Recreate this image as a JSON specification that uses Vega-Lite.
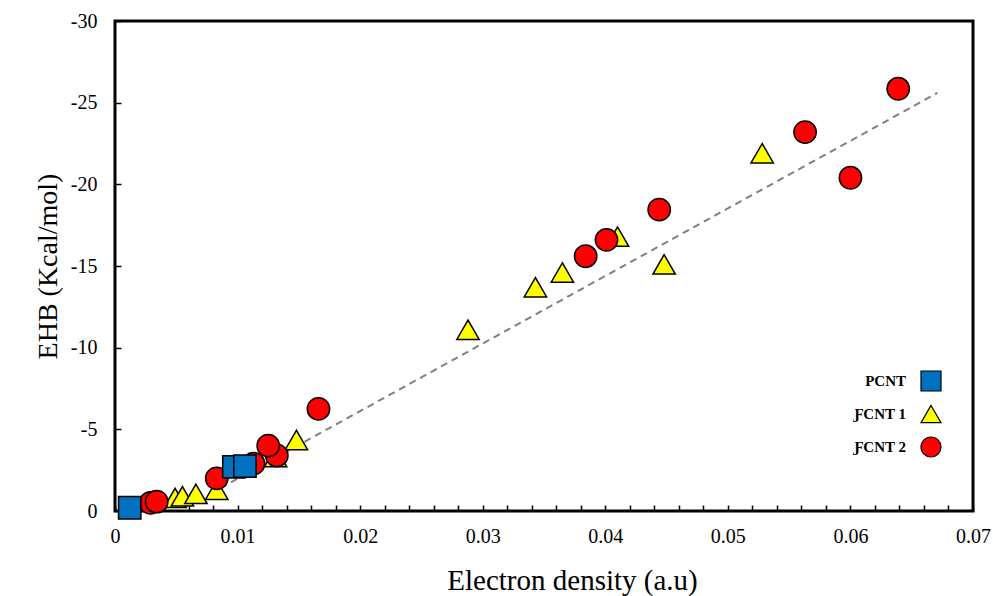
{
  "$schema": "https://vega.github.io/schema/vega-lite/v6.json",
  "autosize": {"type": "none"},
  "padding": {"left": 115, "top": 21, "right": 20, "bottom": 85},
  "width": 858,
  "height": 490,
  "background": "white",
  "config": {
    "view": {"stroke": "black", "strokeWidth": 3},
    "font": "Liberation Serif",
    "axis": {
      "grid": false,
      "domain": false,
      "tickColor": "black",
      "tickWidth": 1.5,
      "tickSize": -6,
      "labelFont": "Liberation Serif",
      "labelFontSize": 20,
      "labelColor": "black",
      "labelOverlap": false,
      "titleFont": "Liberation Serif",
      "titleFontSize": 28,
      "titleFontWeight": "normal",
      "titleColor": "black"
    }
  },
  "datasets": {
    "pts": [
      {"series": "ƑCNT 1", "z": 1, "density": 0.0049, "ehb": -0.8},
      {"series": "ƑCNT 1", "z": 1, "density": 0.0055, "ehb": -0.9},
      {"series": "ƑCNT 1", "z": 1, "density": 0.0066, "ehb": -1.05},
      {"series": "ƑCNT 1", "z": 1, "density": 0.0083, "ehb": -1.3},
      {"series": "ƑCNT 1", "z": 1, "density": 0.0131, "ehb": -3.3},
      {"series": "ƑCNT 1", "z": 1, "density": 0.0148, "ehb": -4.35},
      {"series": "ƑCNT 1", "z": 1, "density": 0.0288, "ehb": -11.1},
      {"series": "ƑCNT 1", "z": 1, "density": 0.0343, "ehb": -13.7},
      {"series": "ƑCNT 1", "z": 1, "density": 0.0365, "ehb": -14.6},
      {"series": "ƑCNT 1", "z": 1, "density": 0.041, "ehb": -16.8},
      {"series": "ƑCNT 1", "z": 1, "density": 0.0448, "ehb": -15.1},
      {"series": "ƑCNT 1", "z": 1, "density": 0.0528, "ehb": -21.9},
      {"series": "ƑCNT 2", "z": 2, "density": 0.0029, "ehb": -0.5},
      {"series": "ƑCNT 2", "z": 2, "density": 0.0034, "ehb": -0.57},
      {"series": "ƑCNT 2", "z": 2, "density": 0.0083, "ehb": -2.0},
      {"series": "ƑCNT 2", "z": 2, "density": 0.0113, "ehb": -2.9},
      {"series": "ƑCNT 2", "z": 2, "density": 0.0132, "ehb": -3.4},
      {"series": "ƑCNT 2", "z": 2, "density": 0.0125, "ehb": -4.0},
      {"series": "ƑCNT 2", "z": 2, "density": 0.0166, "ehb": -6.25},
      {"series": "ƑCNT 2", "z": 2, "density": 0.0384, "ehb": -15.6},
      {"series": "ƑCNT 2", "z": 2, "density": 0.0401, "ehb": -16.6},
      {"series": "ƑCNT 2", "z": 2, "density": 0.0444, "ehb": -18.45},
      {"series": "ƑCNT 2", "z": 2, "density": 0.0563, "ehb": -23.2},
      {"series": "ƑCNT 2", "z": 2, "density": 0.06, "ehb": -20.4},
      {"series": "ƑCNT 2", "z": 2, "density": 0.0639, "ehb": -25.85},
      {"series": "PCNT", "z": 3, "density": 0.0012, "ehb": -0.2},
      {"series": "PCNT", "z": 3, "density": 0.0097, "ehb": -2.7},
      {"series": "PCNT", "z": 3, "density": 0.0106, "ehb": -2.75}
    ],
    "trend": [
      {"density": 0.0086, "ehb": -1.4},
      {"density": 0.0671, "ehb": -25.6}
    ]
  },
  "encoding": {
    "x": {
      "field": "density",
      "type": "quantitative",
      "scale": {"domain": [0, 0.07], "nice": false, "zero": false},
      "axis": {
        "title": "Electron density (a.u)",
        "titleX": 457,
        "titleFontSize": 29,
        "values": [0, 0.002, 0.004, 0.006, 0.008, 0.01, 0.012, 0.014, 0.016, 0.018, 0.02, 0.022, 0.024, 0.026, 0.028, 0.03, 0.032, 0.034, 0.036, 0.038, 0.04, 0.042, 0.044, 0.046, 0.048, 0.05, 0.052, 0.054, 0.056, 0.058, 0.06, 0.062, 0.064, 0.066, 0.068, 0.07],
        "labelExpr": "round(datum.value*500) % 5 == 0 ? format(datum.value, '~g') : ''",
        "labelOverlap": false,
        "labelPadding": 21,
        "labelFlush": false,
        "titlePadding": 20
      }
    },
    "y": {
      "field": "ehb",
      "type": "quantitative",
      "scale": {"domain": [0, -30], "nice": false, "zero": false},
      "axis": {
        "title": "EHB (Kcal/mol)",
        "values": [0, -5, -10, -15, -20, -25, -30],
        "labelExpr": "datum.value == 0 ? '0' : '-' + abs(datum.value)",
        "labelOverlap": false,
        "labelPadding": 24,
        "labelFlush": false,
        "titlePadding": 8
      }
    }
  },
  "layer": [
    {
      "data": {"name": "trend"},
      "mark": {"type": "line", "color": "#808080", "strokeWidth": 2, "strokeDash": [7, 5]}
    },
    {
      "data": {"name": "pts"},
      "mark": {"type": "point", "filled": true, "opacity": 1, "stroke": "black", "strokeWidth": 1.5, "size": 500},
      "encoding": {
        "color": {
          "field": "series",
          "type": "nominal",
          "scale": {"domain": ["PCNT", "ƑCNT 1", "ƑCNT 2"], "range": ["#0070C0", "#FFFF00", "#FF0000"]},
          "legend": {
            "title": null,
            "orient": "none",
            "legendX": 805,
            "legendY": 349,
            "labelAlign": "right",
            "labelOffset": -36,
            "labelFont": "Liberation Serif",
            "labelFontSize": 15,
            "labelFontWeight": "bold",
            "labelColor": "black",
            "symbolSize": 400,
            "symbolStrokeColor": "black",
            "symbolStrokeWidth": 1.2,
            "rowPadding": 8,
            "symbolOpacity": 1
          }
        },
        "shape": {
          "field": "series",
          "type": "nominal",
          "scale": {"domain": ["PCNT", "ƑCNT 1", "ƑCNT 2"], "range": ["square", "triangle-up", "circle"]}
        },
        "order": {"field": "z", "type": "quantitative"}
      }
    }
  ]
}
